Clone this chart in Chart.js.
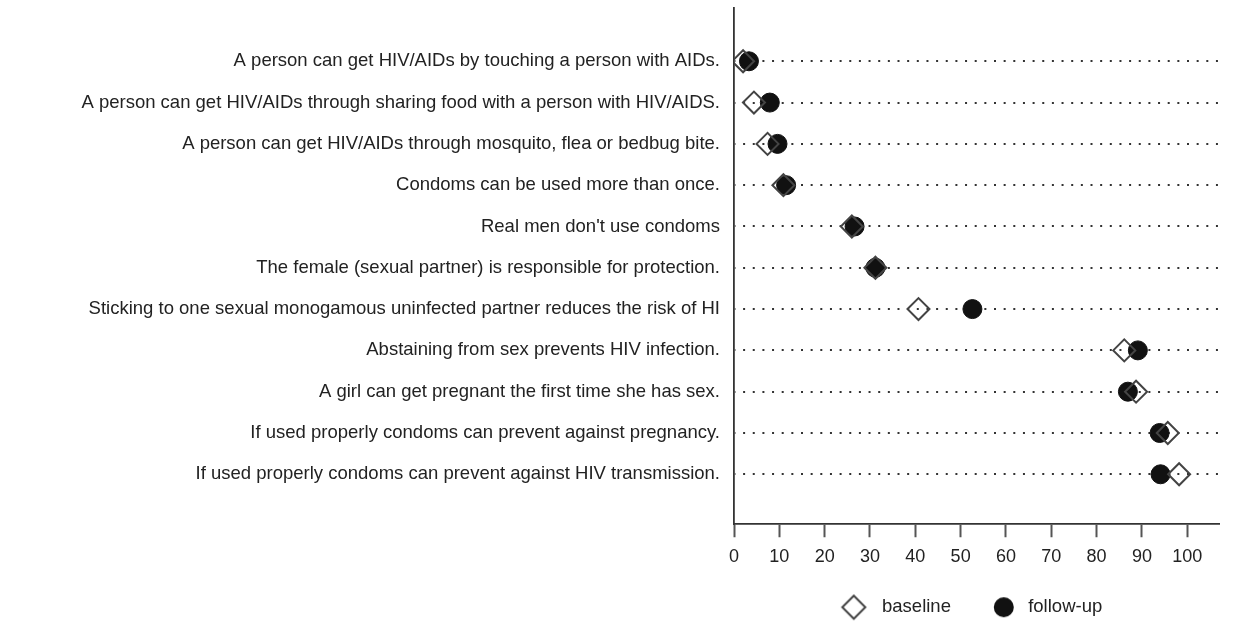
<!DOCTYPE html>
<html>
<head>
<meta charset="utf-8">
<script src="https://cdn.jsdelivr.net/npm/chart.js@4.4.1/dist/chart.umd.min.js"></script>
<style>
  html, body { margin: 0; padding: 0; background: #fff; }
  canvas { display: block; }
</style>
</head>
<body>
<canvas id="chart" width="1249" height="633"></canvas>
<script>
// Survey statements, top to bottom
const categories = [
  "A person can get HIV/AIDs by touching a person with AIDs.",
  "A person can get HIV/AIDs through sharing food with a person with HIV/AIDS.",
  "A person can get HIV/AIDs through mosquito, flea or bedbug bite.",
  "Condoms can be used more than once.",
  "Real men don't use condoms",
  "The female (sexual partner) is responsible for protection.",
  "Sticking to one sexual monogamous uninfected partner reduces the risk of HI",
  "Abstaining from sex prevents HIV infection.",
  "A girl can get pregnant the first time she has sex.",
  "If used properly condoms can prevent against pregnancy.",
  "If used properly condoms can prevent against HIV transmission."
];

// Percent agreeing, per statement
const baseline = [2.0, 4.4, 7.4, 10.9, 26.0, 31.2, 40.7, 86.1, 88.7, 95.7, 98.2];
const followUp = [3.3, 7.9, 9.6, 11.5, 26.6, 31.2, 52.6, 89.1, 86.9, 93.9, 94.1];

// Percent axis tick values
const xTickValues = [0, 10, 20, 30, 40, 50, 60, 70, 80, 90, 100];

const seriesNames = ["baseline", "follow-up"];

const FONT = "'Liberation Sans', Arial, sans-serif";
const TEXT = "#222";
const AXIS = "#333";

// Legend icons drawn onto small canvases so the box-to-text spacing can be set freely
function makeIcon(draw) {
  const c = document.createElement("canvas");
  c.width = 60; c.height = 30;
  draw(c.getContext("2d"));
  return c;
}
const diamondIcon = makeIcon(ctx => {
  const cx = 30 - 8, cy = 15, r = 11.5;
  ctx.beginPath();
  ctx.moveTo(cx - r, cy); ctx.lineTo(cx, cy - r);
  ctx.lineTo(cx + r, cy); ctx.lineTo(cx, cy + r);
  ctx.closePath();
  ctx.lineWidth = 2; ctx.strokeStyle = "#444"; ctx.stroke();
});
const dotIcon = makeIcon(ctx => {
  ctx.beginPath();
  ctx.arc(30 - 4.2, 15, 10, 0, Math.PI * 2);
  ctx.fillStyle = "#111"; ctx.fill();
});

// The x axis box is kept short so the legend sits close to it;
// let its tick labels draw below the box without being clipped.
const tickLabelRoom = {
  id: "tickLabelRoom",
  afterLayout(chart) {
    chart.scales.x.bottom = chart.height;
  }
};

const toPoints = vals => vals.map((v, i) => ({ x: v, y: i }));

new Chart(document.getElementById("chart"), {
  type: "scatter",
  data: {
    datasets: [
      {
        label: seriesNames[0],
        data: toPoints(baseline),
        pointStyle: "rectRot",
        pointRadius: 11,
        pointBorderWidth: 2,
        borderColor: "#444",
        backgroundColor: "rgba(255,255,255,0)"
      },
      {
        label: seriesNames[1],
        data: toPoints(followUp),
        pointStyle: "circle",
        pointRadius: 9.5,
        pointBorderWidth: 1,
        borderColor: "#111",
        backgroundColor: "#111"
      }
    ]
  },
  plugins: [tickLabelRoom],
  options: {
    responsive: false,
    animation: false,
    events: [],
    layout: { autoPadding: false, padding: { top: 8, right: 30, bottom: 6.5, left: 0 } },
    scales: {
      x: {
        type: "linear",
        position: "bottom",
        min: 0,
        max: 107,
        afterBuildTicks: s => { s.ticks = xTickValues.map(v => ({ value: v })); },
        afterFit: s => { s.height = 27.75; s.paddingLeft = 0; s.paddingRight = 0; },
        grid: {
          display: true,
          drawOnChartArea: false,
          drawTicks: true,
          tickLength: 13,
          tickColor: "#555",
          tickWidth: 2
        },
        border: { display: true, color: AXIS, width: 1.8 },
        ticks: {
          padding: 9,
          color: TEXT,
          font: { family: FONT, size: 18 },
          maxRotation: 0,
          autoSkip: false
        }
      },
      y: {
        type: "linear",
        position: "left",
        reverse: true,
        min: -1.29,
        max: 11.21,
        afterBuildTicks: s => { s.ticks = categories.map((_, i) => ({ value: i })); },
        afterFit: s => { s.width = 734; s.paddingTop = 0; s.paddingBottom = 0; },
        grid: {
          display: true,
          drawOnChartArea: true,
          drawTicks: false,
          color: "#333",
          lineWidth: 2
        },
        border: { display: true, color: AXIS, width: 1.8, dash: [2, 7.65], dashOffset: 1.35 },
        ticks: {
          padding: 14,
          color: TEXT,
          font: { family: FONT, size: 18.5 },
          autoSkip: false,
          callback: v => categories[v] ?? ""
        }
      }
    },
    plugins: {
      tooltip: { enabled: false },
      legend: {
        display: true,
        position: "bottom",
        fullSize: false,
        labels: {
          usePointStyle: true,
          pointStyleWidth: 22,
          padding: 46,
          color: TEXT,
          font: { family: FONT, size: 18.5 },
          generateLabels: chart => {
            const items = Chart.defaults.plugins.legend.labels.generateLabels(chart);
            items[0].pointStyle = diamondIcon;
            items[1].pointStyle = dotIcon;
            return items;
          }
        }
      }
    }
  }
});
</script>
</body>
</html>
